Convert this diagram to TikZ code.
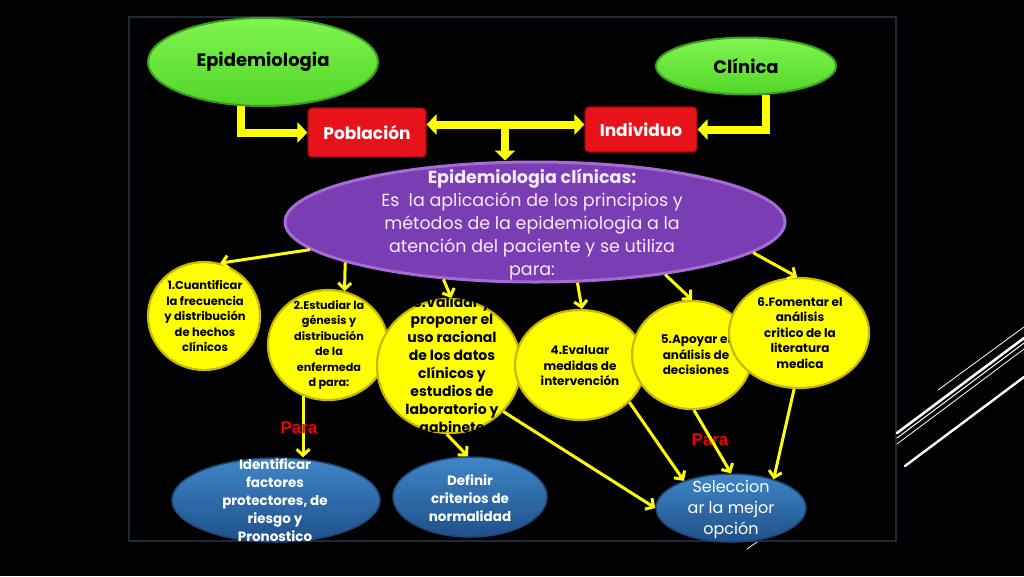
\documentclass[tikz,border=0pt]{standalone}
\usepackage{fontspec}
\setmainfont{Poppins}
\newfontfamily\arialf{Liberation Sans}
\usetikzlibrary{shapes.geometric,arrows.meta,calc}
\definecolor{frameC}{HTML}{1C2A38}
\definecolor{grnT}{HTML}{80F550}
\definecolor{grnB}{HTML}{52D628}
\definecolor{grnD}{HTML}{3C9E1E}
\definecolor{redF}{HTML}{E8121A}
\definecolor{redD}{HTML}{9E0A0A}
\definecolor{purF}{HTML}{7B3DB3}
\definecolor{purD}{HTML}{A56BD6}
\definecolor{yelF}{HTML}{FFFF00}
\definecolor{yelD}{HTML}{C9B800}
\definecolor{bluT}{HTML}{3F86C6}
\definecolor{bluB}{HTML}{1F5089}
\definecolor{bluD}{HTML}{1B4677}
\definecolor{arrY}{HTML}{FFFF00}
\definecolor{paraR}{HTML}{F00000}
\definecolor{purTxt}{HTML}{F4ECFA}
\tikzset{
  ell/.style={ellipse, inner sep=0pt, line width=2pt},
  grn/.style={ell, top color=grnT, bottom color=grnB, draw=grnD},
  yel/.style={ell, fill=yelF, draw=yelD, line width=2.2pt},
  blu/.style={ell, top color=bluT, bottom color=bluB, draw=bluD, line width=1.5pt},
  redbox/.style={rectangle, rounded corners=4pt, fill=redF, draw=redD, line width=1.2pt, inner sep=0pt,
     text=white, font=\bfseries\fontsize{17}{20}\selectfont},
  ytxt/.style={align=center, text=black, inner sep=0pt},
  btxt/.style={align=center, text=white, inner sep=0pt},
  conn/.style={draw=arrY, line width=3pt, -{Straight Barb[length=6pt,width=13pt]}},
  blk/.style={draw=arrY, line width=8pt, -{Triangle[length=10pt,width=20pt]}},
  blk2/.style={draw=arrY, line width=8pt, {Triangle[length=10pt,width=20pt]}-{Triangle[length=10pt,width=20pt]}},
  paralbl/.style={text=paraR, font=\arialf\bfseries\fontsize{17}{19}\selectfont, inner sep=0pt},
  deco/.style={draw=white, line cap=round}
}
\begin{document}
\begin{tikzpicture}[x=1pt,y=-1pt]
\fill[black] (0,0) rectangle (1024,576);
\useasboundingbox (0,0) rectangle (1024,576);
% frame
\draw[frameC, line width=2pt] (129,17) rectangle (896,541);
% decorative lines
\draw[deco, line width=0.8pt] (938,390) -- (1024,327);
\draw[deco, line width=2.6pt] (897,433) -- (1024,338);
\draw[deco, line width=1pt] (897,438) -- (1024,343);
\draw[deco, line width=0.8pt] (897,444) -- (1024,349);
\draw[deco, line width=2.4pt] (905,466) -- (1024,377);
\draw[deco, line width=0.8pt] (747,549) -- (757,542);

% top nodes
\node[grn, minimum width=230pt, minimum height=88pt] (epi) at (263,62) {};
\node[text=black, font=\bfseries\fontsize{18}{20}\selectfont, inner sep=0pt] (epiT) at (263,62) {Epidemiologia};
\node[grn, minimum width=180pt, minimum height=57pt] (cli) at (746,66) {};
\node[text=black, font=\bfseries\fontsize{18}{20}\selectfont, inner sep=0pt] (cliT) at (746,66) {Clínica};
\node[redbox, minimum width=118pt, minimum height=49pt] (pob) at (367,132.5) {Población};
\node[redbox, minimum width=112pt, minimum height=45pt] (ind) at (641,129.5) {Individuo};

% purple ellipse
\node[ell, fill=purF, draw=purD, line width=3pt, minimum width=500pt, minimum height=120pt] (p) at (535,222) {};
\node[align=center, text=purTxt, inner sep=0pt, font=\fontsize{17.5}{23}\selectfont] (pT) at (532,225)
  {\textbf{Epidemiologia clínicas:}\\Es\ \ la aplicación de los principios y\\métodos de la epidemiologia a la\\atención del paciente y se utiliza\\para:};

% block arrows
\draw[blk] (epi.244) |- (pob.west);
\draw[blk] (cli.305) |- (ind.east);
\draw[blk2] ([yshift=8pt]pob.east) -- ([yshift=5pt]ind.west);
\coordinate (mid) at (505,124);
\draw[blk] (mid) -- (mid |- p.north);

% yellow ellipses
\node[yel, minimum width=112pt, minimum height=108pt] (e1) at (204,316) {};
\node[ytxt, font=\bfseries\fontsize{11.5}{15.5}\selectfont] (t1) at (205,316)
  {1.Cuantificar\\la frecuencia\\y distribución\\de hechos\\clínicos};
\node[yel, minimum width=120pt, minimum height=110pt] (e2) at (328,345) {};
\node[ytxt, font=\bfseries\fontsize{11.2}{15.5}\selectfont] (t2) at (329,345)
  {2.Estudiar la\\génesis y\\distribución\\de la\\enfermeda\\d para:};
\node[yel, minimum width=144pt, minimum height=134pt] (e3) at (449,366) {};
\node[ytxt, font=\bfseries\fontsize{14}{17.9}\selectfont] (t3) at (452,366)
  {3.Validar y\\proponer el\\uso racional\\de los datos\\clínicos y\\estudios de\\laboratorio y\\gabinete};
\node[yel, minimum width=130pt, minimum height=110pt] (e4) at (580,365) {};
\node[ytxt, font=\bfseries\fontsize{12}{15.5}\selectfont] (t4) at (580,366)
  {4.Evaluar\\medidas de\\intervención};
\node[yel, minimum width=120pt, minimum height=108pt] (e5) at (692,355) {};
\node[ytxt, font=\bfseries\fontsize{12}{15.5}\selectfont] (t5) at (696,355)
  {5.Apoyar el\\análisis de\\decisiones};
\node[yel, minimum width=140pt, minimum height=110pt] (e6) at (799,333) {};
\node[ytxt, font=\bfseries\fontsize{12}{15.5}\selectfont] (t6) at (800,333)
  {6.Fomentar el\\análisis\\critico de la\\literatura\\medica};

% blue ellipses
\node[blu, minimum width=208pt, minimum height=84pt] (A) at (276,500) {};
\node[btxt, font=\bfseries\fontsize{13.5}{18}\selectfont] (tA) at (275,500)
  {Identificar\\factores\\protectores, de\\riesgo y\\Pronostico};
\node[blu, minimum width=154pt, minimum height=80pt] (B) at (470,497) {};
\node[btxt, font=\bfseries\fontsize{13.5}{18}\selectfont] (tB) at (470,498)
  {Definir\\criterios de\\normalidad};
\node[blu, minimum width=150pt, minimum height=68pt] (C) at (731,508) {};
\node[btxt, font=\fontsize{16}{21}\selectfont] (tC) at (731,509)
  {Seleccion\\ar la mejor\\opción};

% label behind arrow
\node[paralbl] (para2) at (710,440) {Para};

% connectors from purple
\draw[conn] (p.187) -- (e1.73);
\draw[conn] (p.192.5) -- (e2.73);
\draw[conn] (p.212) -- (e3.88);
\draw[conn] (p.305) -- (e4.88);
\draw[conn] (p.338) -- (e5.90);
\draw[conn] (p.352) -- (e6.92);
% lower connectors
\draw[conn] (e2.244) -- (e2.244 |- A.north);
\draw[conn] (e3.268) -- (B.93);
\draw[conn] (e3.320) -- (C.180);
\draw[conn] (e4.323) -- (C.150);
\draw[conn] (e5.272) -- (C.90);
\draw[conn] (e6.265) -- (C.34);

\node[paralbl] (para1) at (299,428) {Para};
\end{tikzpicture}
\end{document}
